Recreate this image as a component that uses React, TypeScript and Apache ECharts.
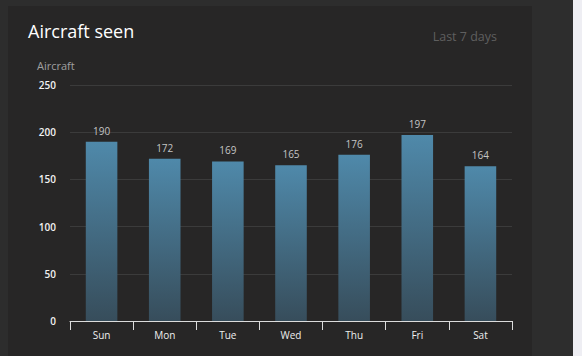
import React, { useEffect, useRef } from "react";
import * as echarts from "echarts";

const categories = ["Sun", "Mon", "Tue", "Wed", "Thu", "Fri", "Sat"];
const aircraftCounts = [190, 172, 169, 165, 176, 197, 164];

export default function App() {
  const ref = useRef<HTMLDivElement>(null);
  useEffect(() => {
    if (!ref.current) return;
    const chart = echarts.init(ref.current, undefined, { renderer: "svg" });
    const font = "'Open Sans', 'Noto Sans', sans-serif";
    chart.setOption({
      animation: false,
      backgroundColor: "#2d2d2d",
      textStyle: { fontFamily: font },
      graphic: [
        {
          type: "rect",
          z: -10,
          silent: true,
          shape: { x: 8, y: 6, width: 524, height: 350 },
          style: { fill: "#272626" },
        },
        {
          type: "rect",
          z: -10,
          silent: true,
          shape: { x: 573, y: 0, width: 9, height: 356 },
          style: { fill: "#eeeef3" },
        },
        {
          type: "text",
          x: 37,
          y: 60,
          style: { text: "Aircraft", fill: "#a0a0a0", fontSize: 11, fontFamily: font },
        },
      ],
      title: [
        {
          text: "Aircraft seen",
          left: 28,
          top: 22,
          padding: 0,
          textStyle: { color: "#ffffff", fontSize: 18, fontWeight: "normal", fontFamily: font },
        },
        {
          text: "Last 7 days",
          right: 85,
          top: 30,
          padding: 0,
          textStyle: { color: "#5f5f5f", fontSize: 12.5, fontWeight: "normal", fontFamily: font },
        },
      ],
      grid: { left: 70, right: 70, top: 85, bottom: 35 },
      xAxis: {
        type: "category",
        data: categories,
        axisLine: { lineStyle: { color: "#dcdcdc", width: 1 } },
        axisTick: { show: true, length: 9, lineStyle: { color: "#dcdcdc" } },
        axisLabel: { color: "#eeeeee", fontSize: 10, margin: 9, fontFamily: font },
      },
      yAxis: {
        type: "value",
        min: 0,
        max: 250,
        interval: 50,
        axisLine: { show: false },
        axisTick: { show: false },
        axisLabel: { color: "#f2f2f2", fontSize: 10, fontWeight: 600, margin: 14, fontFamily: font },
        splitLine: { lineStyle: { color: "#3b3b3b", width: 1 } },
      },
      series: [
        {
          type: "bar",
          data: aircraftCounts,
          barWidth: "50%",
          itemStyle: {
            color: new echarts.graphic.LinearGradient(0, 0, 0, 1, [
              { offset: 0, color: "#4f89aa" },
              { offset: 1, color: "#374d5b" },
            ]),
          },
          label: {
            show: true,
            position: "top",
            distance: 6,
            color: "#c4c4c4",
            fontSize: 10,
            fontFamily: font,
          },
        },
      ],
    });
    return () => chart.dispose();
  }, []);
  return (
    <div
      ref={ref}
      style={{ position: "fixed", left: 0, top: 0, width: 582, height: 356 }}
    />
  );
}
